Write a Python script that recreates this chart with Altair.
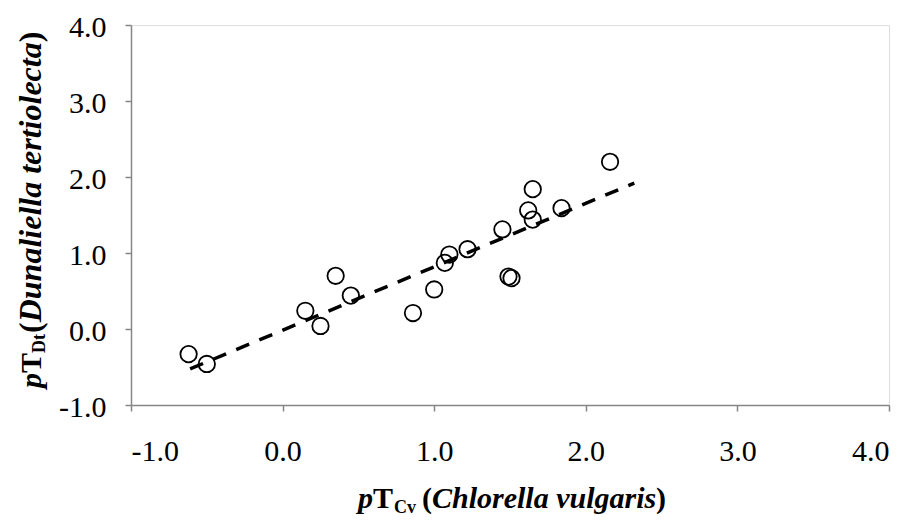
import altair as alt
import pandas as pd

# pT values
cv = [-0.62, -0.50, 0.15, 0.25, 0.35, 0.45, 0.86, 1.00, 1.07, 1.10, 1.22,
      1.45, 1.49, 1.51, 1.62, 1.65, 1.65, 1.84, 2.16]
dt = [-0.33, -0.46, 0.24, 0.04, 0.70, 0.44, 0.21, 0.52, 0.87, 0.98, 1.05,
      1.31, 0.69, 0.67, 1.56, 1.84, 1.44, 1.59, 2.20]

# dashed trend line end points
trend_x = [-0.61, 2.32]
trend_y = [-0.525, 1.92]

tick_values = [-1.0, 0.0, 1.0, 2.0, 3.0, 4.0]

FONT = "Liberation Serif, Times New Roman, serif"

pts = pd.DataFrame({"cv": cv, "dt": dt})
trend = pd.DataFrame({"cv": trend_x, "dt": trend_y})

xs = alt.Scale(domain=[-1, 4], nice=False, zero=False)
ys = alt.Scale(domain=[-1, 4], nice=False, zero=False)

label_expr = "(datum.value < 0 ? '-' : '') + format(abs(datum.value), '.1f')"

axis_common = dict(
    values=tick_values, labelExpr=label_expr, grid=False,
    domainColor="#868686", domainWidth=1.5,
    tickColor="#868686", tickWidth=1.5, tickSize=6,
    labelFont=FONT, labelFontSize=30, labelColor="black",
    title=None,
)

x_axis = alt.Axis(labelPadding=25, **axis_common)
y_axis = alt.Axis(labelPadding=19, labelOffset=2, **axis_common)

points = alt.Chart(pts).mark_point(
    shape="circle", filled=False, size=270, strokeWidth=1.8, color="black", opacity=1
).encode(
    x=alt.X("cv:Q", scale=xs, axis=x_axis),
    y=alt.Y("dt:Q", scale=ys, axis=y_axis),
)

line = alt.Chart(trend).mark_line(
    color="black", strokeWidth=3.5, strokeDash=[14, 11]
).encode(
    x=alt.X("cv:Q", scale=xs),
    y=alt.Y("dt:Q", scale=ys),
)


def piece(text, x, y, size, italic=False, angle=0):
    return alt.Chart(pd.DataFrame({"t": [text]})).mark_text(
        font=FONT, fontSize=size, fontWeight="bold",
        fontStyle="italic" if italic else "normal",
        align="left", baseline="alphabetic", angle=angle, color="black",
    ).encode(x=alt.value(x), y=alt.value(y), text="t:N")


# x title: pT_Cv (Chlorella vulgaris)
xt = [
    piece("p", 227, 483, 30, italic=True),
    piece("T", 242, 483, 30),
    piece("Cv", 263, 488, 18),
    piece("(", 291, 483, 30),
    piece("Chlorella vulgaris", 301, 483, 30, italic=True),
    piece(")", 525, 483, 30),
]

# y title: pT_Dt(Dunaliella tertiolecta), rotated
yt = [
    piece("p", -90, 363, 30, italic=True, angle=270),
    piece("T", -90, 348, 30, angle=270),
    piece("Dt", -86, 328, 18, angle=270),
    piece("(", -90, 308, 32, angle=270),
    piece("Dunaliella tertiolecta", -90, 297.3, 32, italic=True, angle=270),
    piece(")", -90, 17.3, 32, angle=270),
]

chart = alt.layer(line, points, *xt, *yt).properties(
    width=758, height=380,
    autosize=alt.AutoSizeParams(type="none"),
    padding={"left": 131, "top": 25, "right": 23, "bottom": 115},
).configure_view(stroke=None).configure(background="white")

chart.save("out.html", embed_options={"renderer": "svg", "actions": False})
